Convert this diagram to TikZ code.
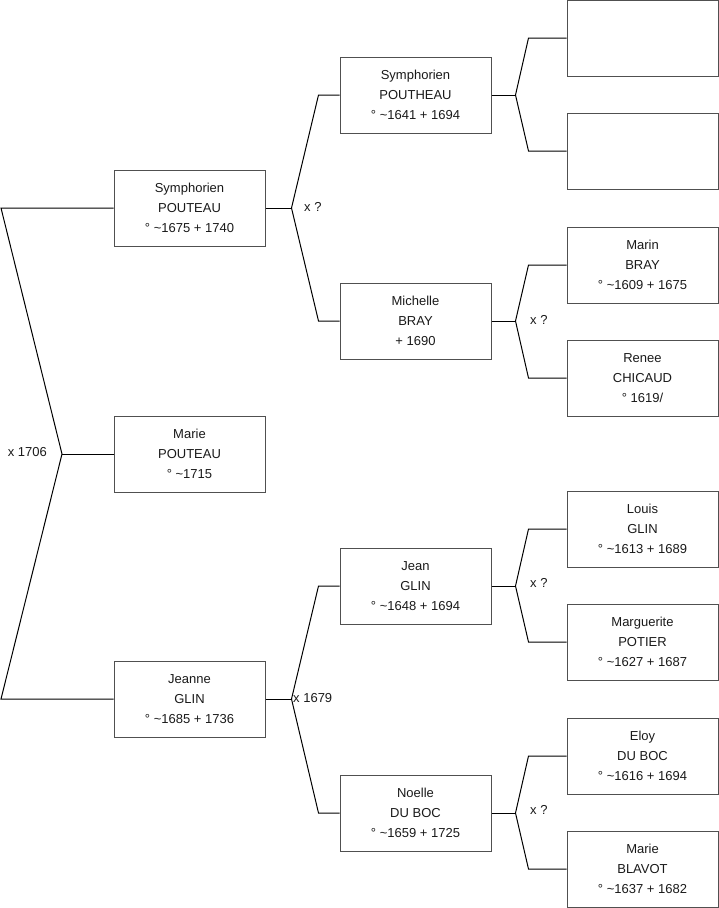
\documentclass[tikz,border=0pt]{standalone}
\usepackage{fontspec}
\setmainfont{Liberation Sans}
\usetikzlibrary{positioning,calc}
\definecolor{BoxLine}{HTML}{505050}
\definecolor{Ink}{HTML}{1A1A1A}

\tikzset{
	person/.style={draw=BoxLine, fill=white, line width=1pt,
		minimum width=151pt, minimum height=76pt, inner sep=0pt,
		align=center, text=Ink, font=\fontsize{13}{20}\selectfont},
	link/.style={draw=black, line width=1pt},
	union/.style={text=Ink, font=\fontsize{13}{15}\selectfont, inner sep=0pt}
}

\begin{document}
\begin{tikzpicture}[x=1pt,y=-1pt]
	\useasboundingbox (0,0) rectangle (719,908);
	
	% generation 1
	\node[person] (sp) at (189.5,208) {Symphorien\\POUTEAU\\° \textasciitilde1675 + 1740};
	\node[person] (mp) at (189.5,454) {Marie\\POUTEAU\\° \textasciitilde1715};
	\node[person] (jg) at (189.5,699) {Jeanne\\GLIN\\° \textasciitilde1685 + 1736};
	
	% generation 2
	\node[person] (spt) at (415.5,95) {Symphorien\\POUTHEAU\\° \textasciitilde1641 + 1694};
	\node[person] (mb) at (415.5,321) {Michelle\\BRAY\\+ 1690};
	\node[person] (jng) at (415.5,586) {Jean\\GLIN\\° \textasciitilde1648 + 1694};
	\node[person] (ndb) at (415.5,813) {Noelle\\DU BOC\\° \textasciitilde1659 + 1725};
	
	% generation 3
	\node[person] (e1) at (642.5,38) {};
	\node[person] (e2) at (642.5,151) {};
	\node[person] (mrb) at (642.5,265) {Marin\\BRAY\\° \textasciitilde1609 + 1675};
	\node[person] (rc) at (642.5,378) {Renee\\CHICAUD\\° 1619/};
	\node[person] (lg) at (642.5,529) {Louis\\GLIN\\° \textasciitilde1613 + 1689};
	\node[person] (mpo) at (642.5,642) {Marguerite\\POTIER\\° \textasciitilde1627 + 1687};
	\node[person] (edb) at (642.5,756) {Eloy\\DU BOC\\° \textasciitilde1616 + 1694};
	\node[person] (mbl) at (642.5,869) {Marie\\BLAVOT\\° \textasciitilde1637 + 1682};
	
	% forks
	\coordinate (k0) at (62,454);
	\coordinate (k0a) at (1,208);
	\coordinate (k0b) at (1,699);
	\coordinate (k1) at ($(sp.east)+(26,0)$);
	\coordinate (k2) at ($(jg.east)+(26,0)$);
	\coordinate (k3) at ($(spt.east)+(24,0)$);
	\coordinate (k4) at ($(mb.east)+(24,0)$);
	\coordinate (k5) at ($(jng.east)+(24,0)$);
	\coordinate (k6) at ($(ndb.east)+(24,0)$);
	
	\draw[link] (sp.west) -- (k0a) -- (k0) -- (k0b) -- (jg.west);
	\draw[link] (k0) -- (mp.west);
	
	\draw[link] (sp.east) -- (k1);
	\draw[link] (spt.west) -- ++(-21,0) -- (k1) -- ($(mb.west)+(-21,0)$) -- (mb.west);
	\draw[link] (jg.east) -- (k2);
	\draw[link] (jng.west) -- ++(-21,0) -- (k2) -- ($(ndb.west)+(-21,0)$) -- (ndb.west);
	
	\draw[link] (spt.east) -- (k3);
	\draw[link] (e1.west) -- ++(-38,0) -- (k3) -- ($(e2.west)+(-38,0)$) -- (e2.west);
	\draw[link] (mb.east) -- (k4);
	\draw[link] (mrb.west) -- ++(-38,0) -- (k4) -- ($(rc.west)+(-38,0)$) -- (rc.west);
	\draw[link] (jng.east) -- (k5);
	\draw[link] (lg.west) -- ++(-38,0) -- (k5) -- ($(mpo.west)+(-38,0)$) -- (mpo.west);
	\draw[link] (ndb.east) -- (k6);
	\draw[link] (edb.west) -- ++(-38,0) -- (k6) -- ($(mbl.west)+(-38,0)$) -- (mbl.west);
	
	% marriages
	\node[union, anchor=east] (u0) at (47,452) {x 1706};
	\node[union, anchor=west] (u1) at (304,207) {x ?};
	\node[union, anchor=west] (u2) at (293,698) {x 1679};
	\node[union, anchor=west] (u4) at (530,320) {x ?};
	\node[union, anchor=west] (u5) at (530,583) {x ?};
	\node[union, anchor=west] (u6) at (530,810) {x ?};
\end{tikzpicture}
\end{document}
